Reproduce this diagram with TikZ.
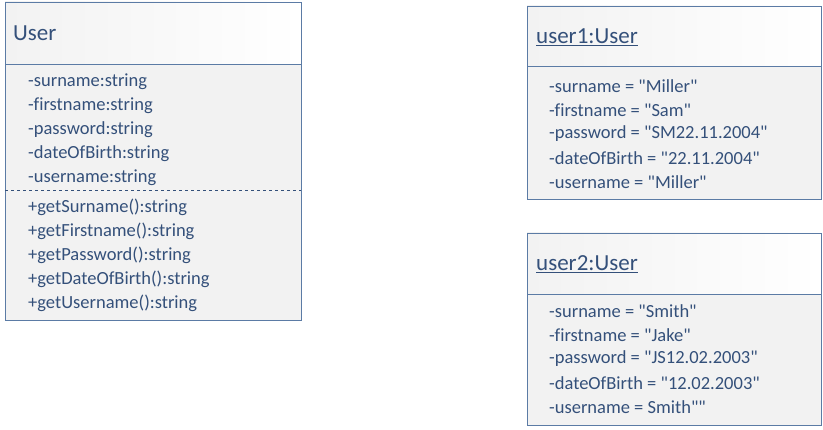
\documentclass[tikz,border=0pt]{standalone}
\usepackage{fontspec}
\setmainfont[Ligatures=NoCommon]{Carlito}
\usepackage{tikz}
\usetikzlibrary{positioning}

\definecolor{umlline}{HTML}{5B7BA5}
\definecolor{umltext}{HTML}{34507A}
\definecolor{umlfill}{HTML}{F2F2F2}
\newcommand{\dq}{\textquotedbl}

\tikzset{
  box/.style={draw=umlline,fill=umlfill,line width=0.8pt},
  head/.style={draw=umlline,left color=umlfill,right color=white,line width=0.8pt},
  attr/.style={anchor=west,inner sep=0pt,text=umltext,font=\fontsize{18.5}{20}\selectfont},
  title/.style={anchor=west,inner sep=0pt,text=umltext,font=\fontsize{23}{25}\selectfont}
}

\begin{document}
\begin{tikzpicture}[x=1pt,y=-1pt]
  \useasboundingbox (0,0) rectangle (823,430);

  % class User
  \draw[box] (5,64) rectangle (301,320);
  \draw[head] (5,2) rectangle (301,64);
  \draw[umltext,dashed,line width=1pt] (5,191) -- (301,191);
  \node[title] (cls) at (13,33) {User};
  \foreach \t [count=\i] in {-surname:string,-firstname:string,-password:string,-dateOfBirth:string,-username:string}
    \node[attr] (ca\i) at (28,58+24*\i) {\t};
  \foreach \t [count=\i] in {+getSurname():string,+getFirstname():string,+getPassword():string,+getDateOfBirth():string,+getUsername():string}
    \node[attr] (cm\i) at (28,183+24*\i) {\t};

  % object user1
  \draw[box] (527,66) rectangle (821,199);
  \draw[head] (527,6) rectangle (821,66);
  \node[title] (obj1) at (536,37) {\underline{user1:User}};
  \foreach \t [count=\i] in {-surname = \dq Miller\dq,-firstname = \dq Sam\dq,-password = \dq SM22.11.2004\dq,-dateOfBirth = \dq 22.11.2004\dq,-username = \dq Miller\dq}
    \node[attr] (oa\i) at (549,62+24*\i) {\t};

  % object user2
  \draw[box] (527,294) rectangle (821,425);
  \draw[head] (527,233) rectangle (821,294);
  \node[title] (obj2) at (536,264) {\underline{user2:User}};
  \foreach \t [count=\i] in {-surname = \dq Smith\dq,-firstname = \dq Jake\dq,-password = \dq JS12.02.2003\dq,-dateOfBirth = \dq 12.02.2003\dq,-username = Smith\dq\dq}
    \node[attr] (ob\i) at (549,287+24*\i) {\t};
\end{tikzpicture}
\end{document}
